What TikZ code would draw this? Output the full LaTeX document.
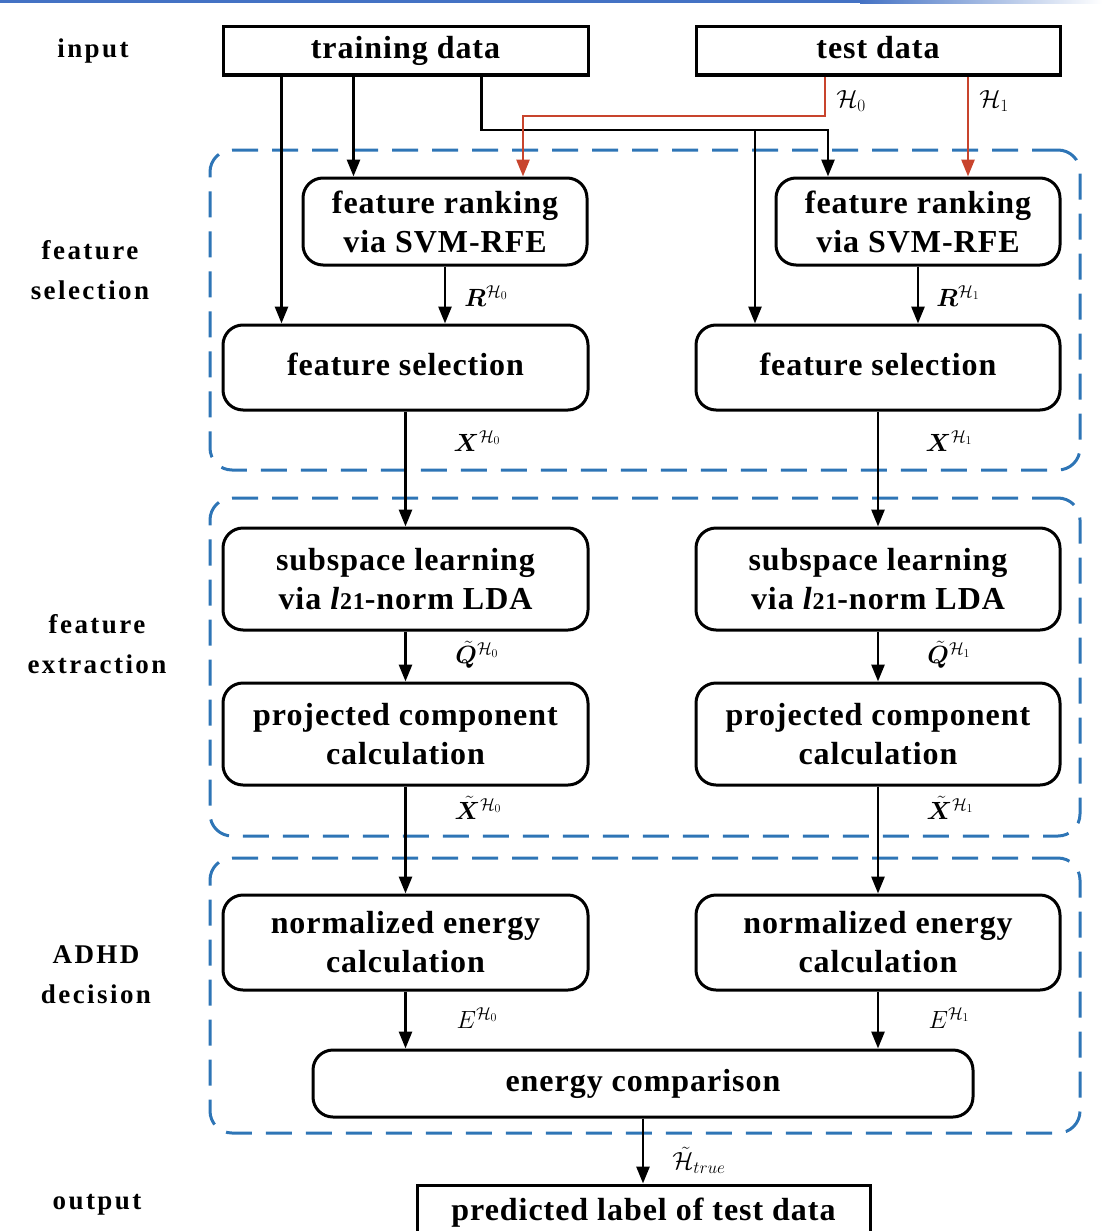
\documentclass[tikz,border=0pt]{standalone}
\usepackage{amsmath,bm}
\usepackage{fontspec}
\setmainfont{Liberation Serif}
\usetikzlibrary{arrows.meta,calc}
\definecolor{regblue}{RGB}{46,117,182}
\definecolor{redarr}{RGB}{200,68,45}
\definecolor{topbar}{RGB}{68,114,196}
\tikzset{
  boxtxt/.style={font=\fontsize{32}{39}\selectfont\bfseries\addfontfeature{LetterSpace=3}, align=center, inner sep=0pt},
  sbox/.style={boxtxt, draw, line width=3pt, rectangle},
  one/.style={text height=22pt, text depth=6pt},
  rbox/.style={sbox, rounded corners=20pt},
  region/.style={draw=regblue, line width=3pt, dash pattern=on 26pt off 14pt, rounded corners=22pt, inner sep=0pt},
  side/.style={font=\fontsize{27}{40}\selectfont\bfseries\addfontfeature{LetterSpace=9}, align=center},
  arr/.style={line width=2.8pt, -{Triangle[length=17pt,width=13pt]}},
  rarr/.style={arr, draw=redarr, -{Triangle[length=17pt,width=13pt,fill=redarr]}},
  lab/.style={font=\fontsize{24}{28}\selectfont, inner sep=0pt}
}
\begin{document}
\begin{tikzpicture}[x=1pt,y=-1pt]
\useasboundingbox (0,0) rectangle (1102,1231);
% top bar
\fill[topbar] (0,0) rectangle (860,3.5);
\shade[left color=topbar, right color=white] (860,0) rectangle (1102,3.5);
% regions
\node[region, minimum width=870pt, minimum height=320pt] (reg1) at (645,310) {};
\node[region, minimum width=870pt, minimum height=338pt] (reg2) at (645,667) {};
\node[region, minimum width=870pt, minimum height=275pt] (reg3) at (645,995.5) {};
% side labels
\node[side] (sIn) at (93,51) {input};
\node[side] (sFS) at (90,270) {feature\\selection};
\node[side] (sFE) at (97,644) {feature\\extraction};
\node[side] (sAD) at (96,975) {ADHD\\decision};
\node[side] (sOut) at (97,1205) {output};
% boxes
\node[sbox, one, minimum width=365pt, minimum height=48pt] (td) at (405.5,51) {training data};
\node[sbox, one, minimum width=364pt, minimum height=48pt] (ted) at (878,51) {test data};
\node[rbox, minimum width=284pt, minimum height=87pt] (fr0) at (445,221.5) {feature ranking\\via SVM-RFE};
\node[rbox, minimum width=284pt, minimum height=87pt] (fr1) at (918,221.5) {feature ranking\\via SVM-RFE};
\node[rbox, one, minimum width=365pt, minimum height=85pt] (fs0) at (405.5,367.5) {feature selection};
\node[rbox, one, minimum width=364pt, minimum height=85pt] (fs1) at (878,367.5) {feature selection};
\node[rbox, minimum width=365pt, minimum height=102pt] (sl0) at (405.5,579) {subspace learning\\via \textit{l}\fontsize{24}{39}\selectfont21\fontsize{32}{39}\selectfont-norm LDA};
\node[rbox, minimum width=364pt, minimum height=102pt] (sl1) at (878,579) {subspace learning\\via \textit{l}\fontsize{24}{39}\selectfont21\fontsize{32}{39}\selectfont-norm LDA};
\node[rbox, minimum width=365pt, minimum height=102pt] (pc0) at (405.5,734) {projected component\\calculation};
\node[rbox, minimum width=364pt, minimum height=102pt] (pc1) at (878,734) {projected component\\calculation};
\node[rbox, minimum width=365pt, minimum height=95pt] (ne0) at (405.5,942.5) {normalized energy\\calculation};
\node[rbox, minimum width=364pt, minimum height=95pt] (ne1) at (878,942.5) {normalized energy\\calculation};
\node[rbox, one, minimum width=660pt, minimum height=67pt] (ec) at (643,1083.5) {energy comparison};
\node[sbox, one, minimum width=453pt, minimum height=54pt] (pl) at (643.5,1212) {predicted label of test data};
% junctions
\coordinate (j1) at (828,130);
\coordinate (j2) at (755,130);
\coordinate (k1) at (825,116);
\coordinate (k2) at (523,116);
% black arrows from training data
\draw[arr] ([xshift=60pt]td.south west) coordinate (a1) -- (a1 |- fs0.north);
\draw[arr] ([xshift=132pt]td.south west) coordinate (a2) -- (a2 |- fr0.north);
\draw[arr] ([xshift=260pt]td.south west) |- (j1) -- (j1 |- fr1.north);
\draw[arr] (j2) -- (j2 |- fs1.north);
% red arrows from test data
\draw[rarr] (ted.south -| k1) -- (k1) -- (k2) -- (k2 |- fr0.north);
\draw[rarr] ([xshift=90pt]ted.south) coordinate (a3) -- (a3 |- fr1.north);
\node[lab] (h0) at (851,101) {$\mathcal{H}_0$};
\node[lab] (h1) at (994,101) {$\mathcal{H}_1$};
% chain left
\draw[arr] (fr0.south) -- (fr0.south |- fs0.north);
\draw[arr] (fs0.south) -- (sl0.north);
\draw[arr] (sl0.south) -- (pc0.north);
\draw[arr] (pc0.south) -- (ne0.north);
\draw[arr] (ne0.south) -- (ne0.south |- ec.north);
% chain right
\draw[arr] (fr1.south) -- (fr1.south |- fs1.north);
\draw[arr] (fs1.south) -- (sl1.north);
\draw[arr] (sl1.south) -- (pc1.north);
\draw[arr] (pc1.south) -- (ne1.north);
\draw[arr] (ne1.south) -- (ne1.south |- ec.north);
\draw[arr] (ec.south) -- (ec.south |- pl.north);
% labels
\node[lab] (lr0) at (486,296) {$\bm{R}^{\mathcal{H}_0}$};
\node[lab] (lr1) at (958,296) {$\bm{R}^{\mathcal{H}_1}$};
\node[lab] (lx0) at (477,441) {$\bm{X}^{\mathcal{H}_0}$};
\node[lab] (lx1) at (949,441) {$\bm{X}^{\mathcal{H}_1}$};
\node[lab] (lq0) at (477,655) {$\tilde{\bm{Q}}^{\mathcal{H}_0}$};
\node[lab] (lq1) at (949,655) {$\tilde{\bm{Q}}^{\mathcal{H}_1}$};
\node[lab] (lt0) at (478,808) {$\tilde{\bm{X}}^{\mathcal{H}_0}$};
\node[lab] (lt1) at (950,808) {$\tilde{\bm{X}}^{\mathcal{H}_1}$};
\node[lab] (le0) at (477,1018) {$E^{\mathcal{H}_0}$};
\node[lab] (le1) at (949,1018) {$E^{\mathcal{H}_1}$};
\node[lab] (lh) at (699,1160) {$\tilde{\mathcal{H}}_{true}$};
\end{tikzpicture}
\end{document}
